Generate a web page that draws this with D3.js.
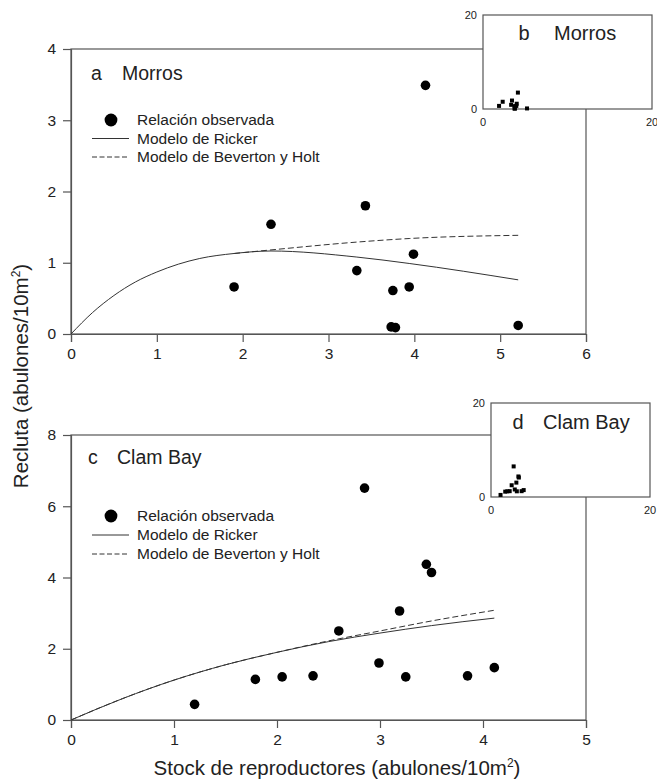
<!DOCTYPE html>
<html>
<head>
<meta charset="utf-8">
<script src="https://cdn.jsdelivr.net/npm/d3@7"></script>
<style>
  body { margin: 0; background: #fff; }
  svg { display: block; font-family: "Liberation Sans", Arial, Helvetica, sans-serif; }
</style>
</head>
<body>
<div id="chart"></div>
<script>
// Morros (panel a, inset b)
const morrosStock = [1.90, 2.33, 3.33, 3.43, 3.73, 3.75, 3.78, 3.94, 3.99, 4.13, 5.21];
const morrosRecruits = [0.66, 1.54, 0.89, 1.80, 0.10, 0.61, 0.09, 0.66, 1.12, 3.49, 0.12];
const morrosRickerStock = [0, 0.25, 0.5, 0.75, 1, 1.25, 1.5, 1.9, 2.33, 3.33, 3.94, 5.21];
const morrosRicker = [0, 0.30, 0.54, 0.73, 0.87, 0.98, 1.06, 1.13, 1.165, 1.08, 0.99, 0.76];
const morrosBHStock = [1.9, 2.33, 3.33, 3.94, 5.21];
const morrosBH = [1.13, 1.18, 1.29, 1.34, 1.385];

// Clam Bay (panel c, inset d)
const clamStock = [1.20, 1.79, 2.05, 2.35, 2.60, 2.85, 2.99, 3.19, 3.25, 3.45, 3.50, 3.85, 4.11];
const clamRecruits = [0.44, 1.14, 1.21, 1.24, 2.50, 6.51, 1.60, 3.06, 1.21, 4.37, 4.14, 1.24, 1.47];
const clamModelStock = [0, 0.5, 1, 1.5, 2, 2.5, 3, 3.5, 4.11];
const clamRicker = [0, 0.60, 1.12, 1.55, 1.90, 2.20, 2.44, 2.65, 2.86];
const clamBH = [0, 0.60, 1.12, 1.55, 1.90, 2.22, 2.50, 2.78, 3.08];

const legendLabels = ["Relación observada", "Modelo de Ricker", "Modelo de Beverton y Holt"];
const xTitle = "Stock de reproductores (abulones/10m";
const yTitle = "Recluta (abulones/10m";

const ink = "#222";
const lineInk = "#333";

const svg = d3.select("#chart").append("svg")
  .attr("width", 657)
  .attr("height", 782);

function zip(xs, ys) { return xs.map((x, i) => [x, ys[i]]); }

function drawPanel(cfg) {
  const x = d3.scaleLinear().domain([0, cfg.xMax]).range([cfg.left, cfg.right]);
  const y = d3.scaleLinear().domain([0, cfg.yMax]).range([cfg.bottom, cfg.top]);
  const g = svg.append("g");

  // frame
  g.append("rect")
    .attr("x", cfg.left).attr("y", cfg.top)
    .attr("width", cfg.right - cfg.left).attr("height", cfg.bottom - cfg.top)
    .attr("fill", "none").attr("stroke", "#555").attr("stroke-width", 1.2);

  const xAxis = g.append("g")
    .attr("transform", `translate(0,${cfg.bottom})`)
    .call(d3.axisBottom(x).tickValues(d3.range(0, cfg.xMax + 1)).tickSize(8).tickPadding(6).tickFormat(d3.format("d")));
  const yAxis = g.append("g")
    .attr("transform", `translate(${cfg.left},0)`)
    .call(d3.axisLeft(y).tickValues(d3.range(0, cfg.yMax + 1, cfg.yStep)).tickSize(8).tickPadding(7).tickFormat(d3.format("d")));
  [xAxis, yAxis].forEach(a => {
    a.select(".domain").attr("stroke", "#555").attr("stroke-width", 1.2);
    a.selectAll(".tick line").attr("stroke", "#555").attr("stroke-width", 1.2);
    a.selectAll(".tick text").attr("fill", ink).style("font-size", "15.5px");
  });

  const line = d3.line().x(d => x(d[0])).y(d => y(d[1])).curve(d3.curveMonotoneX);

  g.append("path").datum(zip(cfg.rickerStock, cfg.ricker))
    .attr("d", line).attr("fill", "none").attr("stroke", lineInk).attr("stroke-width", 1);
  g.append("path").datum(zip(cfg.bhStock, cfg.bh))
    .attr("d", line).attr("fill", "none").attr("stroke", lineInk).attr("stroke-width", 1)
    .attr("stroke-dasharray", "6,3");

  g.selectAll(".obs").data(zip(cfg.stock, cfg.recruits)).enter()
    .append("circle")
    .attr("cx", d => x(d[0])).attr("cy", d => y(d[1]))
    .attr("r", 4.8).attr("fill", "#000");

  // panel title
  g.append("text").attr("x", cfg.left + cfg.letterDx).attr("y", cfg.top + cfg.titleDy)
    .attr("fill", ink).style("font-size", "19.5px").text(cfg.letter);
  g.append("text").attr("x", cfg.left + cfg.nameDx).attr("y", cfg.top + cfg.titleDy)
    .attr("fill", ink).style("font-size", "19.5px").text(cfg.name);

  // legend
  const ly = cfg.top + cfg.legendDy;
  const sp = cfg.legendGap;
  const lg = g.append("g").attr("transform", `translate(0,${ly})`);
  lg.append("circle").attr("cx", cfg.left + 40).attr("cy", 0).attr("r", 6.4).attr("fill", "#000");
  lg.append("line").attr("x1", cfg.left + 21).attr("x2", cfg.left + 58).attr("y1", sp).attr("y2", sp)
    .attr("stroke", lineInk).attr("stroke-width", 1);
  lg.append("line").attr("x1", cfg.left + 21).attr("x2", cfg.left + 58).attr("y1", 2 * sp).attr("y2", 2 * sp)
    .attr("stroke", lineInk).attr("stroke-width", 1).attr("stroke-dasharray", "5,2.5");
  lg.selectAll(".lt").data(legendLabels).enter().append("text")
    .attr("x", cfg.left + 66).attr("y", (d, i) => i * sp)
    .attr("dy", "0.35em").attr("fill", ink).style("font-size", "15.5px")
    .text(d => d);
}

function drawInset(cfg) {
  const x = d3.scaleLinear().domain([0, 20]).range([cfg.left, cfg.right]);
  const y = d3.scaleLinear().domain([0, 20]).range([cfg.bottom, cfg.top]);
  const g = svg.append("g");
  g.append("rect")
    .attr("x", cfg.left).attr("y", cfg.top)
    .attr("width", cfg.right - cfg.left).attr("height", cfg.bottom - cfg.top)
    .attr("fill", "#fff").attr("stroke", "#555").attr("stroke-width", 1.2);

  g.selectAll(".yl").data([0, 20]).enter().append("text")
    .attr("x", cfg.left - 6).attr("y", d => y(d)).attr("dy", "0.35em")
    .attr("text-anchor", "end").attr("fill", ink).style("font-size", "11px")
    .text(d => d);
  g.selectAll(".xl").data([0, 20]).enter().append("text")
    .attr("x", d => x(d)).attr("y", cfg.bottom + 13).attr("dy", "0.35em")
    .attr("text-anchor", "middle").attr("fill", ink).style("font-size", "11px")
    .text(d => d);

  g.selectAll(".sq").data(zip(cfg.stock, cfg.recruits)).enter().append("rect")
    .attr("x", d => x(d[0]) - 2).attr("y", d => y(d[1]) - 2)
    .attr("width", 4).attr("height", 4).attr("fill", "#000");

  g.append("text").attr("x", cfg.letterX).attr("y", cfg.top + cfg.titleDy).attr("dy", "0.35em")
    .attr("text-anchor", "middle").attr("fill", ink).style("font-size", "20px").text(cfg.letter);
  g.append("text").attr("x", cfg.nameX).attr("y", cfg.top + cfg.titleDy).attr("dy", "0.35em")
    .attr("fill", ink).style("font-size", "20px").text(cfg.name);
}

drawPanel({
  left: 71, right: 586, top: 49, bottom: 334, xMax: 6, yMax: 4, yStep: 1,
  letter: "a", name: "Morros", letterDx: 20, nameDx: 51, titleDy: 31,
  legendDy: 71, legendGap: 18.5,
  stock: morrosStock, recruits: morrosRecruits,
  rickerStock: morrosRickerStock, ricker: morrosRicker,
  bhStock: morrosBHStock, bh: morrosBH
});
drawPanel({
  left: 71, right: 586, top: 435, bottom: 720, xMax: 5, yMax: 8, yStep: 2,
  letter: "c", name: "Clam Bay", letterDx: 17, nameDx: 46, titleDy: 29,
  legendDy: 81, legendGap: 19,
  stock: clamStock, recruits: clamRecruits,
  rickerStock: clamModelStock, ricker: clamRicker,
  bhStock: clamModelStock, bh: clamBH
});
drawInset({ left: 483, right: 652, top: 15, bottom: 109, letterX: 524, nameX: 554, titleDy: 18,
  letter: "b", name: "Morros", stock: morrosStock, recruits: morrosRecruits });
drawInset({ left: 491, right: 650, top: 403, bottom: 497, letterX: 518, nameX: 543, titleDy: 19,
  letter: "d", name: "Clam Bay", stock: clamStock, recruits: clamRecruits });

// axis titles
const xt = svg.append("text").attr("x", 337).attr("y", 775)
  .attr("text-anchor", "middle").attr("fill", ink).style("font-size", "20.5px");
xt.append("tspan").text(xTitle);
xt.append("tspan").attr("dy", -8).style("font-size", "12px").text("2");
xt.append("tspan").attr("dy", 8).text(")");

const yt = svg.append("text").attr("transform", "translate(28,376) rotate(-90)")
  .attr("text-anchor", "middle").attr("fill", ink).style("font-size", "20.5px");
yt.append("tspan").text(yTitle);
yt.append("tspan").attr("dy", -8).style("font-size", "12px").text("2");
yt.append("tspan").attr("dy", 8).text(")");
</script>
</body>
</html>
